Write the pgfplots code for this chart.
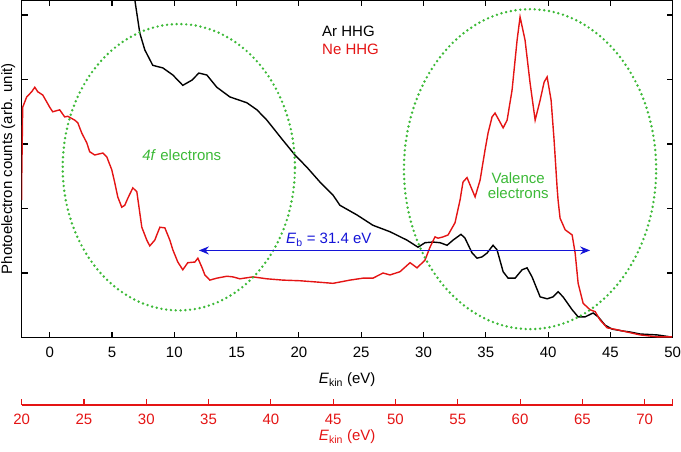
\documentclass[border=0pt]{standalone}
\usepackage{fontspec}
\setmainfont{Liberation Sans}
\usepackage{pgfplots}
\pgfplotsset{compat=1.18}
\usetikzlibrary{arrows.meta}
\definecolor{nered}{RGB}{228,20,20}
\definecolor{arrblue}{RGB}{20,20,215}
\definecolor{dotgreen}{RGB}{60,185,55}
\begin{document}
\fontsize{15}{17}\selectfont
\begin{tikzpicture}
\path[use as bounding box] (0,0) rectangle (681pt,451pt);
\begin{axis}[
  at={(21.7pt,113.5pt)}, anchor=south west,
  scale only axis, width=651pt, height=337.5pt,
  xmin=-2.25, xmax=50, ymin=0, ymax=5.233,
  xtick={0,5,...,50}, ytick={1,2,3,4,5}, yticklabels={},
  tick align=inside, major tick length=6pt,
  axis line style={line width=1.1pt}, every tick/.style={line width=1.1pt,black},
  /pgf/number format/assume math mode=true,
  tick label style={font=\fontsize{15}{17}\selectfont},
  xticklabel style={yshift=-4pt},
  xlabel={\textit{E}\textsubscript{kin} (eV)},
  xlabel style={at={(axis description cs:0.5,-0.126)}, anchor=center},
  ylabel={Photoelectron counts (arb. unit)},
  ylabel style={at={(axis description cs:-0.0205,0.5)}, anchor=center},
  clip=true,
]
\addplot[black, line width=1.4pt] coordinates {
(6.70,5.40)(7.23,4.72)(7.63,4.46)(8.27,4.22)(9.08,4.18)(9.88,4.07)(10.68,3.91)
(11.41,3.99)(11.97,4.10)(12.61,4.07)(13.41,3.88)(14.46,3.73)(15.82,3.64)(16.63,3.53)
(17.43,3.37)(18.71,3.06)(19.68,2.83)(20.64,2.64)(21.69,2.41)(22.73,2.21)(23.29,2.05)
(24.66,1.90)(25.94,1.74)(27.31,1.64)(28.67,1.51)(29.56,1.40)(30.12,1.47)(30.76,1.48)
(31.33,1.47)(31.89,1.43)(32.37,1.51)(33.01,1.60)(33.33,1.54)(33.90,1.31)(34.30,1.23)
(34.70,1.25)(35.10,1.31)(35.58,1.43)(35.90,1.36)(36.39,1.02)(36.79,0.92)(37.35,0.92)
(37.91,1.05)(38.31,1.08)(38.71,0.94)(39.36,0.63)(39.92,0.60)(40.40,0.63)(40.80,0.71)
(41.20,0.63)(41.93,0.43)(42.41,0.32)(42.97,0.32)(43.61,0.38)(44.02,0.32)(44.58,0.19)
(45.14,0.13)(46.02,0.10)(46.59,0.085)(47.39,0.054)(48.76,0.04)(49.80,0.01)
};
\addplot[nered, line width=1.4pt] coordinates {
(-2.25,2.13)(-2.25,2.44)(-2.17,3.57)(-1.85,3.73)(-1.45,3.81)(-1.20,3.88)(-0.96,3.81)
(-0.56,3.76)(0.00,3.57)(0.24,3.50)(0.80,3.53)(1.20,3.42)(1.45,3.43)(2.01,3.37)
(2.25,3.33)(2.57,3.17)(2.97,3.02)(3.21,2.88)(3.61,2.83)(4.26,2.86)(4.58,2.80)
(4.98,2.60)(5.22,2.40)(5.46,2.18)(5.78,2.02)(6.02,2.05)(6.27,2.16)(6.67,2.32)
(6.99,2.26)(7.39,1.71)(7.79,1.51)(8.03,1.42)(8.43,1.51)(8.84,1.71)(9.24,1.70)
(9.64,1.51)(9.88,1.36)(10.28,1.17)(10.68,1.05)(11.08,1.16)(11.65,1.17)(11.89,1.23)
(12.21,1.09)(12.45,0.97)(12.85,0.89)(13.41,0.92)(14.22,0.95)(14.70,0.94)(15.26,0.91)
(16.31,0.94)(17.43,0.91)(18.71,0.89)(20.08,0.88)(21.45,0.86)(22.73,0.84)(23.29,0.86)
(24.10,0.89)(25.14,0.92)(25.94,0.92)(26.75,1.00)(27.31,0.97)(28.11,1.02)(28.92,1.16)
(29.48,1.08)(30.12,1.20)(30.52,1.40)(30.92,1.56)(31.16,1.54)(31.57,1.56)(31.97,1.59)
(32.53,1.78)(32.93,2.13)(33.17,2.41)(33.49,2.48)(33.90,2.29)(34.14,2.18)(34.54,2.44)
(34.94,2.91)(35.18,3.17)(35.50,3.42)(35.74,3.48)(36.14,3.34)(36.39,3.25)(36.71,3.37)
(37.11,3.84)(37.51,4.61)(37.75,4.97)(38.15,4.61)(38.55,3.95)(38.96,3.37)(39.36,3.68)
(39.68,3.96)(39.92,4.04)(40.24,3.68)(40.48,3.06)(40.72,2.33)(40.80,2.13)(40.96,1.85)
(41.37,1.67)(41.93,1.59)(42.17,1.31)(42.41,0.84)(42.81,0.53)(43.37,0.43)(43.78,0.40)
(44.18,0.27)(44.74,0.15)(45.54,0.12)(46.35,0.085)(47.39,0.04)(48.76,0.01)(49.96,0.01)
};
\draw[dotgreen, line width=2.7pt, line cap=round, dash pattern=on 0pt off 4.8pt]
  (axis cs:10.36,2.64) ellipse [x radius=9.32, y radius=2.22];
\draw[dotgreen, line width=2.7pt, line cap=round, dash pattern=on 0pt off 4.8pt]
  (axis cs:38.55,2.61) ellipse [x radius=10.12, y radius=2.48];
\draw[arrblue, line width=1.3pt, {Stealth[length=10pt,width=8pt]}-{Stealth[length=10pt,width=8pt]}]
  (axis cs:11.97,1.35) -- (axis cs:43.37,1.35);
\node[arrblue, anchor=base] at (axis cs:22.4,1.45) {\textit{E}\textsubscript{b} = 31.4 eV};
\node[dotgreen] at (axis cs:10.6,2.83) {\textit{4f} electrons};
\node[dotgreen, align=center] at (axis cs:37.6,2.35) {Valence\\[-2pt]electrons};
\node[black, anchor=west] at (axis cs:21.45,4.75) {Ar HHG};
\node[nered, anchor=west] at (axis cs:21.45,4.47) {Ne HHG};
\end{axis}
\begin{axis}[
  at={(21.7pt,46pt)}, anchor=south west,
  scale only axis, width=651pt, height=10pt,
  xmin=20, xmax=72.25, ymin=0, ymax=1,
  axis x line=bottom, axis y line=none, ytick=\empty,
  x axis line style={-, nered, line width=1.1pt},
  xtick={20,25,...,70}, extra x ticks={72.25}, extra x tick labels={},
  tick align=inside, major tick length=6pt,
  every tick/.style={line width=1.1pt, nered},
  /pgf/number format/assume math mode=true,
  tick label style={font=\fontsize{15}{17}\selectfont, text=nered},
  xticklabel style={yshift=-4pt},
  xlabel={\textit{E}\textsubscript{kin} (eV)},
  xlabel style={text=nered, at={(axis description cs:0.5,0)}, anchor=center, yshift=-32pt},
]
\end{axis}
\end{tikzpicture}
\end{document}
